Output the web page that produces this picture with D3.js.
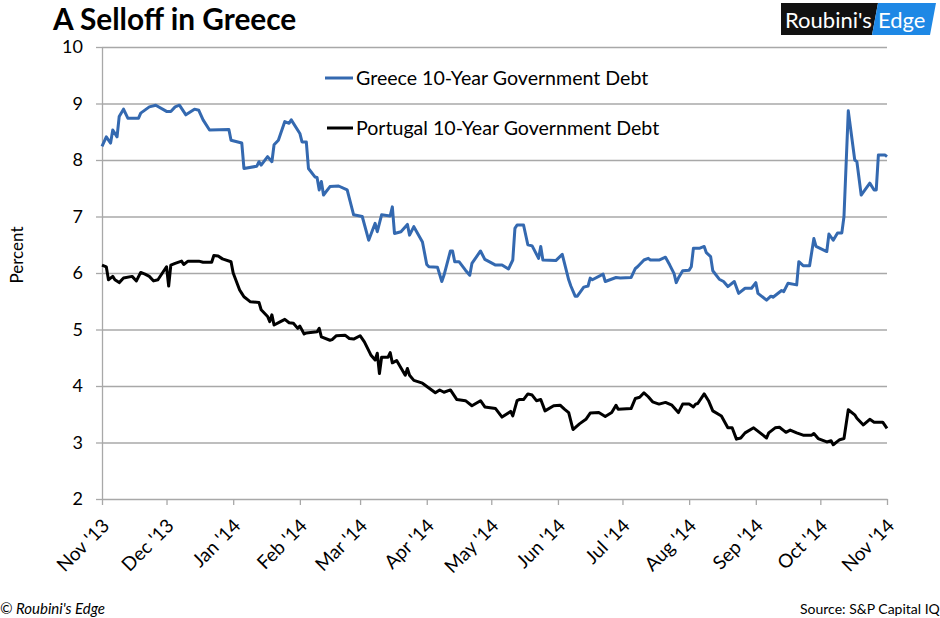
<!DOCTYPE html>
<html>
<head>
<meta charset="utf-8">
<script src="https://cdn.jsdelivr.net/npm/d3@7/dist/d3.min.js"></script>
<style>
  html, body { margin: 0; padding: 0; background: #fff; }
  svg { display: block; }
  text { font-family: Lato, "Open Sans", sans-serif; }
</style>
</head>
<body>
<svg id="chart" width="940" height="618"></svg>
<script>
const title = "A Selloff in Greece";
const yTicks = [2, 3, 4, 5, 6, 7, 8, 9, 10];
const seriesNames = ["Greece 10-Year Government Debt", "Portugal 10-Year Government Debt"];

const greeceDates = ["2013-11-01","2013-11-03","2013-11-05","2013-11-06","2013-11-08","2013-11-09","2013-11-11","2013-11-13","2013-11-18","2013-11-19","2013-11-23","2013-11-26","2013-12-01","2013-12-03","2013-12-05","2013-12-07","2013-12-10","2013-12-14","2013-12-16","2013-12-18","2013-12-21","2013-12-30","2013-12-31","2014-01-05","2014-01-06","2014-01-12","2014-01-13","2014-01-14","2014-01-17","2014-01-19","2014-01-20","2014-01-22","2014-01-25","2014-01-27","2014-01-28","2014-02-01","2014-02-02","2014-02-04","2014-02-05","2014-02-08","2014-02-09","2014-02-10","2014-02-11","2014-02-12","2014-02-15","2014-02-19","2014-02-23","2014-02-26","2014-03-02","2014-03-05","2014-03-08","2014-03-09","2014-03-11","2014-03-15","2014-03-16","2014-03-17","2014-03-20","2014-03-23","2014-03-24","2014-03-26","2014-03-30","2014-04-01","2014-04-02","2014-04-06","2014-04-08","2014-04-09","2014-04-12","2014-04-13","2014-04-14","2014-04-16","2014-04-19","2014-04-21","2014-04-22","2014-04-26","2014-04-28","2014-04-30","2014-05-03","2014-05-06","2014-05-09","2014-05-11","2014-05-12","2014-05-13","2014-05-16","2014-05-18","2014-05-20","2014-05-23","2014-05-24","2014-05-25","2014-05-31","2014-06-03","2014-06-06","2014-06-07","2014-06-09","2014-06-10","2014-06-13","2014-06-15","2014-06-16","2014-06-17","2014-06-22","2014-06-23","2014-06-28","2014-06-30","2014-07-05","2014-07-07","2014-07-08","2014-07-11","2014-07-13","2014-07-14","2014-07-18","2014-07-21","2014-07-23","2014-07-25","2014-07-26","2014-07-27","2014-07-29","2014-08-01","2014-08-02","2014-08-03","2014-08-06","2014-08-08","2014-08-09","2014-08-11","2014-08-12","2014-08-15","2014-08-17","2014-08-19","2014-08-22","2014-08-24","2014-08-27","2014-08-30","2014-09-01","2014-09-02","2014-09-06","2014-09-08","2014-09-09","2014-09-13","2014-09-14","2014-09-16","2014-09-20","2014-09-21","2014-09-23","2014-09-26","2014-09-28","2014-09-29","2014-10-04","2014-10-05","2014-10-07","2014-10-09","2014-10-11","2014-10-12","2014-10-14","2014-10-17","2014-10-18","2014-10-20","2014-10-24","2014-10-26","2014-10-27","2014-10-28","2014-10-31","2014-11-01"];
const greeceValues = [8.24,8.41,8.30,8.53,8.41,8.77,8.90,8.74,8.74,8.83,8.94,8.97,8.86,8.86,8.94,8.97,8.80,8.90,8.88,8.71,8.53,8.54,8.35,8.30,7.85,7.89,7.97,7.91,8.06,7.97,8.27,8.35,8.68,8.65,8.71,8.47,8.32,8.32,7.85,7.70,7.69,7.47,7.62,7.38,7.53,7.54,7.47,7.03,7.00,6.58,6.88,6.73,7.03,7.01,7.17,6.70,6.73,6.86,6.67,6.82,6.55,6.15,6.11,6.10,5.85,5.96,6.39,6.39,6.20,6.20,6.05,5.96,6.17,6.39,6.24,6.20,6.14,6.14,6.07,6.23,6.79,6.85,6.85,6.50,6.48,6.26,6.47,6.23,6.22,6.33,5.88,5.77,5.59,5.59,5.75,5.77,5.91,5.88,5.98,5.85,5.92,5.91,5.92,6.08,6.11,6.23,6.26,6.23,6.23,6.28,6.14,5.99,5.83,5.91,6.04,6.05,6.11,6.44,6.44,6.47,6.36,6.29,6.04,5.89,5.85,5.76,5.85,5.64,5.73,5.73,5.83,5.64,5.52,5.59,5.57,5.69,5.67,5.82,5.79,6.20,6.13,6.13,6.61,6.47,6.38,6.69,6.58,6.71,6.71,7.00,8.87,8.00,7.97,7.38,7.59,7.47,7.47,8.09,8.09,8.06];

const portugalDates = ["2013-11-01","2013-11-03","2013-11-04","2013-11-06","2013-11-07","2013-11-09","2013-11-11","2013-11-15","2013-11-17","2013-11-19","2013-11-21","2013-11-23","2013-11-25","2013-11-27","2013-12-01","2013-12-02","2013-12-03","2013-12-05","2013-12-08","2013-12-09","2013-12-11","2013-12-16","2013-12-18","2013-12-22","2013-12-23","2013-12-25","2013-12-27","2013-12-31","2014-01-01","2014-01-04","2014-01-05","2014-01-06","2014-01-08","2014-01-09","2014-01-13","2014-01-14","2014-01-17","2014-01-18","2014-01-19","2014-01-20","2014-01-23","2014-01-25","2014-01-27","2014-01-29","2014-01-31","2014-02-01","2014-02-03","2014-02-04","2014-02-09","2014-02-10","2014-02-11","2014-02-15","2014-02-16","2014-02-18","2014-02-22","2014-02-24","2014-02-26","2014-03-01","2014-03-03","2014-03-06","2014-03-08","2014-03-09","2014-03-10","2014-03-11","2014-03-14","2014-03-15","2014-03-16","2014-03-18","2014-03-22","2014-03-23","2014-03-24","2014-03-26","2014-03-30","2014-04-05","2014-04-07","2014-04-09","2014-04-12","2014-04-15","2014-04-19","2014-04-22","2014-04-26","2014-04-28","2014-05-03","2014-05-06","2014-05-10","2014-05-11","2014-05-13","2014-05-14","2014-05-16","2014-05-18","2014-05-20","2014-05-22","2014-05-24","2014-05-26","2014-05-30","2014-06-02","2014-06-04","2014-06-06","2014-06-08","2014-06-11","2014-06-14","2014-06-16","2014-06-20","2014-06-23","2014-06-26","2014-06-28","2014-06-29","2014-07-05","2014-07-07","2014-07-09","2014-07-11","2014-07-13","2014-07-15","2014-07-18","2014-07-21","2014-07-24","2014-07-27","2014-07-29","2014-08-01","2014-08-03","2014-08-04","2014-08-05","2014-08-08","2014-08-10","2014-08-12","2014-08-16","2014-08-19","2014-08-21","2014-08-23","2014-08-25","2014-08-27","2014-08-31","2014-09-03","2014-09-06","2014-09-07","2014-09-10","2014-09-12","2014-09-14","2014-09-15","2014-09-17","2014-09-20","2014-09-23","2014-09-27","2014-09-28","2014-09-30","2014-10-04","2014-10-06","2014-10-07","2014-10-10","2014-10-12","2014-10-14","2014-10-17","2014-10-18","2014-10-21","2014-10-24","2014-10-26","2014-10-30","2014-11-01"];
const portugalValues = [6.14,6.11,5.88,5.94,5.88,5.83,5.91,5.94,5.86,6.01,5.98,5.94,5.86,5.88,6.11,5.77,6.14,6.17,6.21,6.15,6.21,6.21,6.19,6.19,6.31,6.30,6.25,6.20,6.00,5.70,5.64,5.58,5.52,5.49,5.48,5.35,5.23,5.14,5.26,5.08,5.14,5.18,5.12,5.11,5.02,5.06,4.92,4.94,4.96,5.02,4.87,4.81,4.82,4.89,4.90,4.84,4.83,4.89,4.78,4.55,4.46,4.58,4.22,4.51,4.51,4.59,4.41,4.45,4.19,4.31,4.19,4.10,4.05,3.88,3.93,3.89,3.93,3.76,3.74,3.65,3.74,3.63,3.60,3.45,3.55,3.47,3.74,3.76,3.76,3.86,3.84,3.74,3.76,3.56,3.65,3.66,3.59,3.53,3.23,3.33,3.41,3.52,3.53,3.46,3.53,3.66,3.59,3.60,3.78,3.80,3.88,3.81,3.72,3.68,3.71,3.66,3.53,3.68,3.68,3.63,3.68,3.69,3.86,3.74,3.56,3.47,3.26,3.26,3.06,3.08,3.17,3.26,3.17,3.08,3.17,3.26,3.27,3.21,3.18,3.22,3.17,3.13,3.13,3.16,3.07,3.01,3.03,2.96,3.05,3.07,3.58,3.49,3.43,3.31,3.41,3.36,3.36,3.25];

const parse = d3.timeParse("%Y-%m-%d");
const svg = d3.select("#chart");

const x = d3.scaleTime()
  .domain([parse("2013-11-01"), parse("2014-11-01")])
  .range([102, 887]);
const y = d3.scaleLinear().domain([2, 10]).range([499, 47]);

const gridColor = "#a8a8a8";

// gridlines
svg.append("g")
  .attr("transform", "translate(102,0)")
  .call(d3.axisLeft(y).tickValues(yTicks.slice(1)).tickSize(-785).tickFormat(""))
  .call(g => g.select(".domain").remove())
  .call(g => g.selectAll("line").attr("stroke", gridColor).attr("stroke-width", 1.3));

// y axis
svg.append("g")
  .attr("transform", "translate(102,0)")
  .call(d3.axisLeft(y).tickValues(yTicks).tickSize(6).tickPadding(13).tickSizeOuter(0))
  .call(g => g.select(".domain").attr("stroke", gridColor).attr("stroke-width", 1.3))
  .call(g => g.selectAll("line").attr("stroke", gridColor).attr("stroke-width", 1.3))
  .call(g => g.selectAll("text").attr("font-family", "Lato, sans-serif").attr("font-size", 18).attr("fill", "#000"));

// x axis
const fmt = d3.timeFormat("%b '%y");
svg.append("g")
  .attr("transform", "translate(0,499)")
  .call(d3.axisBottom(x).ticks(d3.timeMonth.every(1)).tickFormat(fmt).tickSize(6).tickSizeOuter(0))
  .call(g => g.select(".domain").attr("stroke", gridColor).attr("stroke-width", 1.3))
  .call(g => g.selectAll("line").attr("stroke", gridColor).attr("stroke-width", 1.3))
  .call(g => g.selectAll("text")
    .attr("font-family", "Lato, sans-serif")
    .attr("font-size", 19)
    .attr("fill", "#000")
    .attr("text-anchor", "end")
    .attr("y", 0).attr("dy", 0)
    .attr("transform", "translate(8,28) rotate(-45)"));

// lines
const line = d3.line().x(d => x(d[0])).y(d => y(d[1]));
const greece = greeceDates.map((d, i) => [parse(d), greeceValues[i]]);
const portugal = portugalDates.map((d, i) => [parse(d), portugalValues[i]]);

svg.append("path").datum(portugal).attr("d", line)
  .attr("fill", "none").attr("stroke", "#000").attr("stroke-width", 3).attr("stroke-linejoin", "round");
svg.append("path").datum(greece).attr("d", line)
  .attr("fill", "none").attr("stroke", "#3469b0").attr("stroke-width", 3).attr("stroke-linejoin", "round");

// legend
const legend = [
  {name: seriesNames[0], color: "#3469b0", y: 78, x1: 325},
  {name: seriesNames[1], color: "#000", y: 128, x1: 327}
];
legend.forEach(l => {
  svg.append("line").attr("x1", l.x1).attr("x2", 353).attr("y1", l.y).attr("y2", l.y)
    .attr("stroke", l.color).attr("stroke-width", 3);
  svg.append("text").attr("x", 356).attr("y", l.y).attr("dy", "0.35em")
    .attr("font-size", 19.6).attr("fill", "#000").text(l.name);
});

// y label
svg.append("text").attr("transform", "translate(23,255) rotate(-90)")
  .attr("text-anchor", "middle").attr("font-size", 17).text("Percent");

// title
svg.append("text").attr("x", 53).attr("y", 30).attr("font-size", 29.8).attr("font-weight", "bold")
  .text(title);

// logo
svg.append("polygon").attr("points", "781,3 878,3 872,35 781,35").attr("fill", "#111");
svg.append("polygon").attr("points", "878,3 936,3 930,35 872,35").attr("fill", "#1e88e5");
svg.append("text").attr("x", 785).attr("y", 28).attr("font-family", "'Liberation Sans', Arial, sans-serif")
  .attr("font-size", 22).attr("fill", "#fff").text("Roubini's");
svg.append("text").attr("x", 878).attr("y", 28).attr("font-family", "'Liberation Sans', Arial, sans-serif")
  .attr("font-size", 22).attr("fill", "#fff").text("Edge");

// footer
svg.append("text").attr("x", 0).attr("y", 614).attr("font-size", 15).attr("font-style", "italic")
  .text("© Roubini's Edge");
svg.append("text").attr("x", 800).attr("y", 614).attr("font-size", 14).text("Source: S&P Capital IQ");
</script>
</body>
</html>
